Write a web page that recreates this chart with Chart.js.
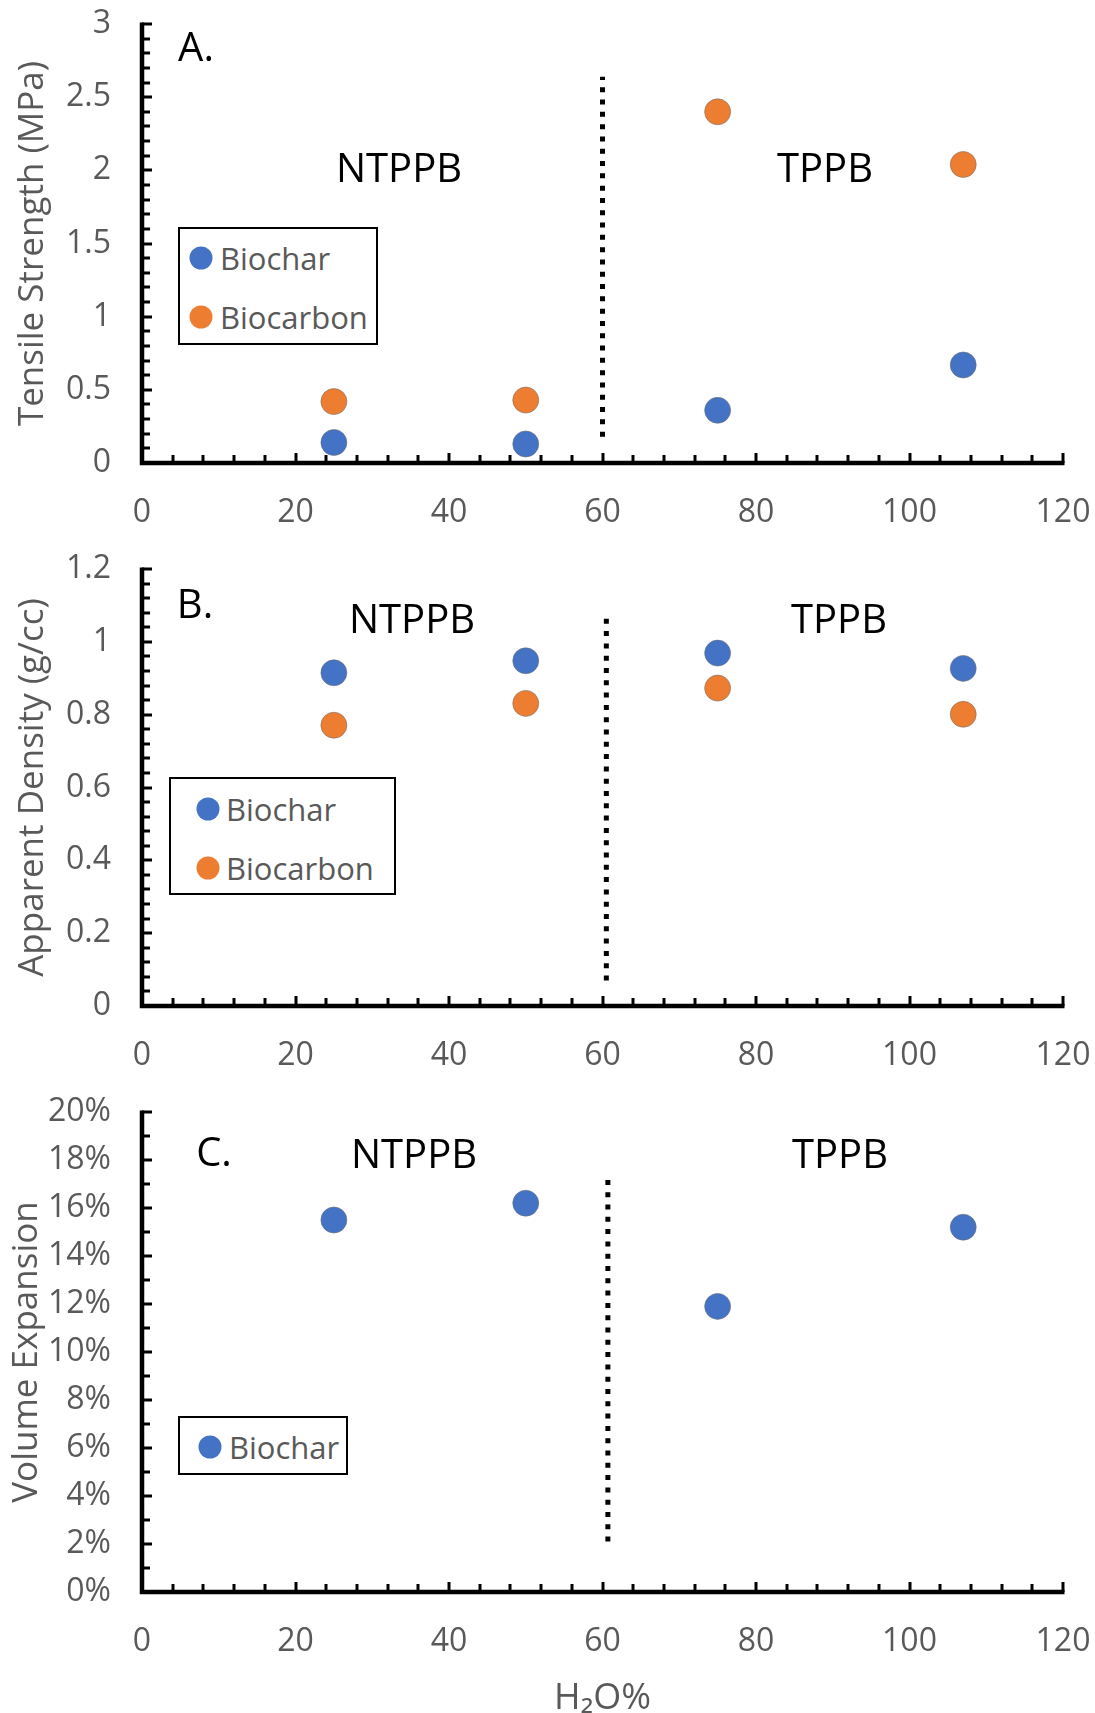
<!DOCTYPE html>
<html>
<head>
<meta charset="utf-8">
<script src="https://cdn.jsdelivr.net/npm/chart.js@4.4.1/dist/chart.umd.min.js"></script>
<style>
	html, body { margin: 0; padding: 0; background: #fff; }
	#wrap { position: relative; width: 1095px; height: 1713px; overflow: hidden; font-family: 'Open Sans', sans-serif; }
	#wrap canvas { position: absolute; left: 0; }
	.tag { position: absolute; font-size: 40px; color: #000; transform: translate(-50%, -50%); white-space: nowrap; line-height: 1; }
	.legend { position: absolute; border: 2px solid #000; background: #fff; box-sizing: border-box; }
	.legend .item { position: absolute; font-size: 31px; color: #595959; line-height: 1; white-space: nowrap; transform: translateY(-50%); }
	.legend .dot { position: absolute; width: 23px; height: 23px; border-radius: 50%; transform: translate(-50%, -50%); }
</style>
</head>
<body>
<div id="wrap">
	<canvas id="chartA" width="1095" height="545" style="top:0"></canvas>
	<canvas id="chartB" width="1095" height="535" style="top:545px"></canvas>
	<canvas id="chartC" width="1095" height="633" style="top:1080px"></canvas>
</div>
<script>
// H2O% levels (x)
const xH2O = [25, 50, 75, 107];
const xTicks = [0, 20, 40, 60, 80, 100, 120];

// A. tensile strength (MPa)
const tensileBiochar = [0.14, 0.13, 0.36, 0.67];
const tensileBiocarbon = [0.42, 0.43, 2.40, 2.04];
const tensileTicks = [0, 0.5, 1, 1.5, 2, 2.5, 3];

// B. apparent density (g/cc)
const densityBiochar = [0.915, 0.948, 0.969, 0.927];
const densityBiocarbon = [0.771, 0.831, 0.873, 0.801];
const densityTicks = [0, 0.2, 0.4, 0.6, 0.8, 1, 1.2];

// C. volume expansion (%)
const expansionBiochar = [15.5, 16.2, 11.9, 15.2];
const expansionTicks = [0, 2, 4, 6, 8, 10, 12, 14, 16, 18, 20];

// divider between NTPPB and TPPB: [x, yFrom, yTo]
const dividerA = [60, 0.18, 2.64];
const dividerB = [60.5, 0.07, 1.07];
const dividerC = [60.7, 2.1, 17.3];

const seriesNames = ['Biochar', 'Biocarbon'];
const BLUE = '#4472C4';
const ORANGE = '#ED7D31';
const GREY = '#595959';
const FONT = "'Open Sans', sans-serif";

const pts = (xs, ys) => xs.map((x, i) => ({ x, y: ys[i] }));

// Excel style axes: thick black lines, inward major + minor ticks
const excelAxes = {
	id: 'excelAxes',
	afterDatasetsDraw(chart, args, opts) {
		const { ctx, chartArea: a } = chart;
		const xs = chart.scales.x;
		const ys = chart.scales.y;
		ctx.save();
		ctx.strokeStyle = '#000';
		ctx.lineCap = 'butt';

		const marks = (scale, step) => {
			const n = Math.round((scale.max - scale.min) / step);
			const out = [];
			for (let i = 0; i <= n; i++) out.push(scale.min + i * step);
			return out;
		};

		ctx.lineWidth = 3;
		marks(xs, opts.xMinor).forEach((v) => {
			const px = Math.round(xs.getPixelForValue(v));
			const major = Math.abs(v / opts.xMajor - Math.round(v / opts.xMajor)) < 1e-6;
			ctx.beginPath();
			ctx.moveTo(px, a.bottom);
			ctx.lineTo(px, a.bottom - (major ? 10 : 8));
			ctx.stroke();
		});
		marks(ys, opts.yMinor).forEach((v) => {
			const py = Math.round(ys.getPixelForValue(v));
			const major = Math.abs(v / opts.yMajor - Math.round(v / opts.yMajor)) < 1e-6;
			ctx.beginPath();
			ctx.moveTo(a.left, py);
			ctx.lineTo(a.left + (major ? 10 : 8), py);
			ctx.stroke();
		});

		ctx.lineWidth = 4.5;
		ctx.beginPath();
		ctx.moveTo(a.left, a.top - 1.5);
		ctx.lineTo(a.left, a.bottom);
		ctx.lineTo(a.right + 1.5, a.bottom);
		ctx.stroke();
		ctx.restore();
	},
};

function buildPanel(id, opt) {
	const datasets = [{
		label: 'divider',
		data: [{ x: opt.divider[0], y: opt.divider[1] }, { x: opt.divider[0], y: opt.divider[2] }],
		showLine: true,
		borderColor: '#000',
		borderWidth: 5,
		borderDash: [5, 7.3],
		borderCapStyle: 'butt',
		pointRadius: 0,
	}];
	opt.series.forEach((s) => {
		datasets.push({
			label: s.name,
			data: pts(xH2O, s.values),
			backgroundColor: s.color,
			borderColor: 'rgba(110,110,110,0.55)',
			borderWidth: 1,
			pointRadius: 13,
			pointHoverRadius: 13,
		});
	});

	return new Chart(document.getElementById(id), {
		type: 'scatter',
		data: { datasets },
		plugins: [excelAxes],
		options: {
			responsive: false,
			animation: false,
			events: [],
			layout: { padding: { left: 0, right: 32, top: opt.top, bottom: 0 } },
			plugins: {
				legend: { display: false },
				tooltip: { enabled: false },
				excelAxes: { xMajor: 20, xMinor: 4, yMajor: opt.yMajor, yMinor: opt.yMinor },
			},
			scales: {
				x: {
					type: 'linear',
					min: 0,
					max: 120,
					afterBuildTicks: (scale) => { scale.ticks = xTicks.map((v) => ({ value: v })); },
					afterFit: (scale) => {
						scale.height = opt.xHeight;
						scale.paddingLeft = 0;
						scale.paddingRight = 0;
					},
					grid: { display: false },
					border: { display: false },
					ticks: { color: GREY, font: { family: FONT, size: 32 }, padding: 23, maxRotation: 0, callback: (v) => String(v) },
					title: opt.xTitle
						? { display: true, text: opt.xTitle, color: GREY, font: { family: FONT, size: 36, lineHeight: 1 }, padding: { top: 0, bottom: -4 } }
						: { display: false },
				},
				y: {
					type: 'linear',
					min: opt.yTicks[0],
					max: opt.yTicks[opt.yTicks.length - 1],
					afterBuildTicks: (scale) => { scale.ticks = opt.yTicks.map((v) => ({ value: v })); },
					afterFit: (scale) => {
						scale.width = 142;
						scale.paddingTop = 0;
						scale.paddingBottom = 0;
					},
					grid: { display: false },
					border: { display: false },
					ticks: { color: GREY, font: { family: FONT, size: 32 }, padding: 23, callback: opt.yFormat },
					title: { display: true, text: opt.yTitle, color: GREY, font: { family: FONT, size: 35 }, padding: { top: opt.yTitlePad, bottom: 0 } },
				},
			},
		},
	});
}

buildPanel('chartA', {
	top: 24, xHeight: 82, divider: dividerA,
	yTicks: tensileTicks, yMajor: 0.5, yMinor: 0.1,
	yFormat: (v) => String(Math.round(v * 100) / 100),
	yTitle: 'Tensile Strength (MPa)', yTitlePad: 12,
	series: [
		{ name: seriesNames[0], values: tensileBiochar, color: BLUE },
		{ name: seriesNames[1], values: tensileBiocarbon, color: ORANGE },
	],
});

buildPanel('chartB', {
	top: 24, xHeight: 74, divider: dividerB,
	yTicks: densityTicks, yMajor: 0.2, yMinor: 0.04,
	yFormat: (v) => String(Math.round(v * 100) / 100),
	yTitle: 'Apparent Density (g/cc)', yTitlePad: 12,
	series: [
		{ name: seriesNames[0], values: densityBiochar, color: BLUE },
		{ name: seriesNames[1], values: densityBiocarbon, color: ORANGE },
	],
});

buildPanel('chartC', {
	top: 32, xHeight: 121, divider: dividerC,
	yTicks: expansionTicks, yMajor: 2, yMinor: 1,
	yFormat: (v) => Math.round(v) + '%',
	yTitle: 'Volume Expansion', yTitlePad: 6,
	xTitle: 'H\u2082O%',
	series: [
		{ name: seriesNames[0], values: expansionBiochar, color: BLUE },
	],
});

// panel tags and region labels (page coordinates)
const tags = [
	['A.', 196, 46], ['NTPPB', 399, 167], ['TPPB', 825, 167],
	['B.', 195, 603], ['NTPPB', 412, 618], ['TPPB', 839, 618],
	['C.', 214, 1151], ['NTPPB', 414, 1153], ['TPPB', 840, 1153],
];
const wrap = document.getElementById('wrap');
tags.forEach(([text, x, y]) => {
	const el = document.createElement('div');
	el.className = 'tag';
	el.textContent = text;
	el.style.left = x + 'px';
	el.style.top = y + 'px';
	wrap.appendChild(el);
});

// legends: box [left, top, width, height], rows [centerY offset], marker x, text x
function legend(box, names, colors, rowY, dotX, textX) {
	const el = document.createElement('div');
	el.className = 'legend';
	el.style.left = box[0] + 'px';
	el.style.top = box[1] + 'px';
	el.style.width = box[2] + 'px';
	el.style.height = box[3] + 'px';
	names.forEach((name, i) => {
		const dot = document.createElement('div');
		dot.className = 'dot';
		dot.style.background = colors[i];
		dot.style.left = dotX + 'px';
		dot.style.top = rowY[i] + 'px';
		el.appendChild(dot);
		const item = document.createElement('div');
		item.className = 'item';
		item.textContent = name;
		item.style.left = textX + 'px';
		item.style.top = rowY[i] + 'px';
		el.appendChild(item);
	});
	wrap.appendChild(el);
}
legend([178, 227, 200, 118], seriesNames, [BLUE, ORANGE], [29, 88], 21, 40);
legend([169, 777, 227, 118], seriesNames, [BLUE, ORANGE], [30, 89], 37, 55);
legend([178, 1416, 170, 59], [seriesNames[0]], [BLUE], [29], 30, 49);
</script>
</body>
</html>
